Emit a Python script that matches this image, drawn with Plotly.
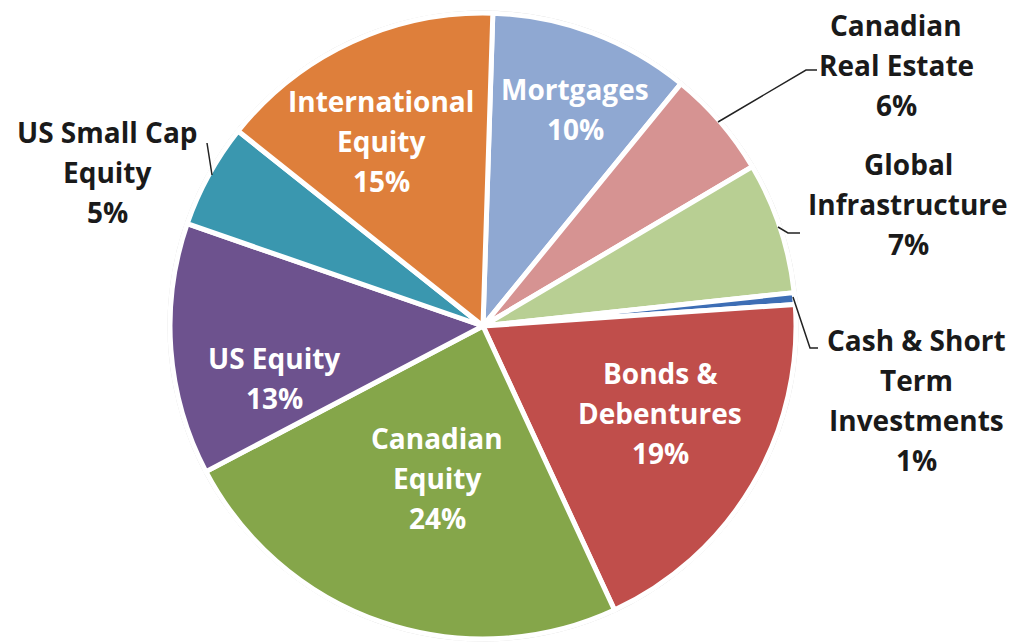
import plotly.graph_objects as go

# ---- data ----
categories = ["Mortgages", "Canadian Real Estate", "Global Infrastructure",
              "Cash & Short Term Investments", "Bonds & Debentures",
              "Canadian Equity", "US Equity", "US Small Cap Equity",
              "International Equity"]
label_lines = [["Mortgages"], ["Canadian", "Real Estate"], ["Global", "Infrastructure"],
               ["Cash & Short", "Term", "Investments"], ["Bonds &", "Debentures"],
               ["Canadian", "Equity"], ["US Equity"], ["US Small Cap", "Equity"],
               ["International", "Equity"]]
values = [10.4, 5.6, 6.8, 0.6, 19.2, 24.2, 13.0, 5.4, 14.8]
colors = ["#8FA8D2", "#D69392", "#B8CF93", "#3D6EB5", "#C04E4B",
          "#85A64A", "#6D528E", "#3A97AF", "#DE7F3B"]
inside = [True, False, False, False, True, True, True, False, True]

W, H = 1015, 643
OFF = 8  # page body margin
CX, CY, R = 483, 326, 313

# label placement (screen pixel centres of first line), line spacing 40px
label_pos = [(575, 89), (896, 25), (908, 164), (916, 340), (660, 373),
             (437, 438), (274, 358), (107, 132), (381, 101)]
LINE = 40


def px(x):
    return (x - OFF) / W


def py(y):
    return 1 - (y - OFF) / H


fig = go.Figure()
fig.add_trace(go.Pie(
    labels=categories, values=values, sort=False, direction="clockwise",
    rotation=1.8, textinfo="none",
    marker=dict(colors=colors, line=dict(color="white", width=5)),
    domain=dict(x=[px(CX) - 0.35, px(CX) + 0.35],
                y=[py(CY + R), py(CY - R)]),
    showlegend=False,
))

total = sum(values)
annotations = []
for i, lines in enumerate(label_lines):
    pct = f"{round(values[i] / total * 100):d}%"
    all_lines = lines + [pct]
    x0, y0 = label_pos[i]
    for k, t in enumerate(all_lines):
        annotations.append(dict(
            x=px(x0), y=py(y0 + k * LINE), xref="paper", yref="paper",
            text=t, showarrow=False, xanchor="center", yanchor="middle",
            borderpad=0,
            font=dict(family="Open Sans", size=28, weight=700,
                      color="white" if inside[i] else "#1a1a1a"),
        ))

leaders = [
    [(718, 122), (806, 70), (817, 70)],
    [(778, 227), (788, 233), (800, 233)],
    [(793, 297), (810, 348), (818, 348)],
    [(212, 175), (207, 143)],
]
shapes = []
for pts in leaders:
    path = "M " + " L ".join(f"{px(x)} {py(y)}" for x, y in pts)
    shapes.append(dict(type="path", path=path, xref="paper", yref="paper",
                       line=dict(color="#222222", width=1.5)))

# faint outline around the pie
RO = R + 2
shapes.append(dict(type="circle", xref="paper", yref="paper",
                   x0=px(CX - RO), x1=px(CX + RO), y0=py(CY + RO), y1=py(CY - RO),
                   line=dict(color="#d4d4d4", width=1), layer="below"))

fig.update_layout(
    width=W, height=H, margin=dict(l=0, r=0, t=0, b=0),
    paper_bgcolor="white", plot_bgcolor="white",
    annotations=annotations, shapes=shapes,
)
fig.write_html("out.html")
